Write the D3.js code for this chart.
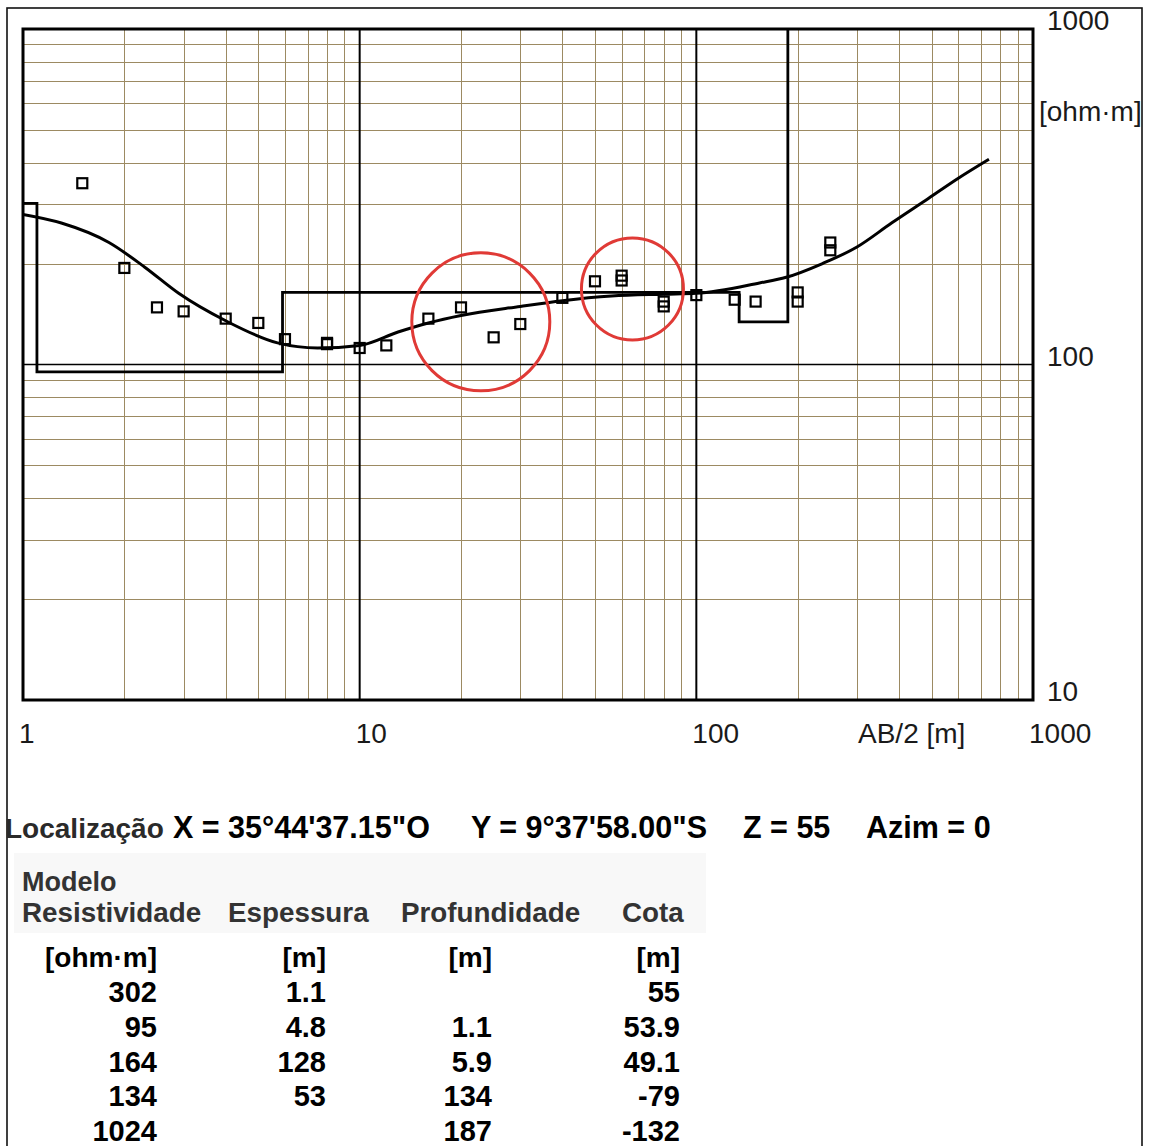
<!DOCTYPE html>
<html>
<head>
<meta charset="utf-8">
<script src="https://cdn.jsdelivr.net/npm/d3@7/dist/d3.min.js"></script>
<style>
  html, body { margin: 0; padding: 0; background: #fff; }
  svg { display: block; }
  text { font-family: "Liberation Sans", Arial, Helvetica, sans-serif; }
</style>
</head>
<body>
<svg id="chart" width="1149" height="1146"></svg>
<script>
// Field sounding: AB/2 spacing [m] and apparent resistivity [ohm·m]
const abHalf = [1.5, 2, 2.5, 3, 4, 5, 6, 8, 8, 10, 12, 16, 20, 25, 30, 40, 50, 60, 60, 80, 80, 100, 130, 150, 200, 200, 250, 250];
const rhoApparent = [347, 194, 148, 144, 137, 133, 119, 115, 116, 112, 114, 137, 148, 120.5, 132, 158, 177, 184, 178, 154, 149, 161, 156, 154, 164, 154, 231, 219];

// Computed (model response) curve
const curveAB  = [1, 1.3, 1.8, 2.3, 2.9, 4, 5.7, 7.5, 10, 13, 16, 20, 30, 40, 56, 80, 100, 154, 185, 237, 300, 380, 490, 600, 740];
const curveRho = [280, 264, 231, 195, 163, 135, 116, 112, 114, 125, 133, 140, 149, 155, 160, 162, 163, 175, 182, 200, 224, 264, 313, 359, 409];

// Layered model
const layerRes   = [302, 95, 164, 134, 1024];
const layerThick = [1.1, 4.8, 128, 53, null];
const layerDepth = [null, 1.1, 5.9, 134, 187];
const layerCota  = [55, 53.9, 49.1, -79, -132];

// Highlighted zones: centre in data units, radius in px
const zoneAB  = [22.9, 64.6];
const zoneRho = [134, 168];
const zoneR   = [69, 51];

// Axis tick labels
const xTickLabels = ["1", "10", "100", "1000"];
const yTickLabels = ["10", "100", "1000"];

const svg = d3.select("#chart");

// outer frame
svg.append("rect").attr("x", 7).attr("y", 8).attr("width", 1135).attr("height", 1150)
  .attr("fill", "none").attr("stroke", "#111").attr("stroke-width", 1.6);

const L = 23, R = 1033, T = 29, B = 700;
const x = d3.scaleLog().domain([1, 1000]).range([L, R]);
const y = d3.scaleLog().domain([10, 1000]).range([B, T]);

const g = svg.append("g");

// grid
const xTicks = x.ticks();
const yTicks = y.ticks();
const isDecade = v => Math.abs(Math.log10(v) - Math.round(Math.log10(v))) < 1e-9;
const gridColor = "#9c8a62";

const gx = g.append("g").attr("transform", `translate(0,${B})`)
  .call(d3.axisBottom(x).tickValues(xTicks.filter(v => !isDecade(v))).tickSize(-(B - T)).tickFormat(""));
gx.select(".domain").remove();
gx.selectAll("line").attr("stroke", gridColor).attr("stroke-width", 1).attr("shape-rendering", "crispEdges");

const gy = g.append("g").attr("transform", `translate(${L},0)`)
  .call(d3.axisLeft(y).tickValues(yTicks.filter(v => !isDecade(v))).tickSize(-(R - L)).tickFormat(""));
gy.select(".domain").remove();
gy.selectAll("line").attr("stroke", gridColor).attr("stroke-width", 1).attr("shape-rendering", "crispEdges");

// decade lines
g.selectAll(".xdec").data([10, 100]).join("line")
  .attr("x1", d => x(d)).attr("x2", d => x(d)).attr("y1", T).attr("y2", B)
  .attr("stroke", "#000").attr("stroke-width", 2);
g.selectAll(".ydec").data([100]).join("line")
  .attr("x1", L).attr("x2", R).attr("y1", d => y(d)).attr("y2", d => y(d))
  .attr("stroke", "#000").attr("stroke-width", 1.5);

// clip to plot area
svg.append("clipPath").attr("id", "plotclip").append("rect")
  .attr("x", L).attr("y", T).attr("width", R - L).attr("height", B - T);
const pg = g.append("g").attr("clip-path", "url(#plotclip)");

// model step line
const steps = [];
layerRes.forEach((r, i) => {
  const x0 = i === 0 ? 1 : layerDepth[i];
  const x1 = i < layerRes.length - 1 ? layerDepth[i + 1] : 1000;
  if (i > 0) steps.push([x0, layerRes[i - 1]]);
  steps.push([x0, r]);
  if (i === layerRes.length - 1) steps.push([x1, r]);
});
// the last layer rises off the top of the plot
steps.length = steps.length - 1;
pg.append("path")
  .attr("d", d3.line().x(d => x(d[0])).y(d => y(d[1]))(steps))
  .attr("fill", "none").attr("stroke", "#000").attr("stroke-width", 2.8);

// computed curve
pg.append("path")
  .attr("d", d3.line().x((d, i) => x(d)).y((d, i) => y(curveRho[i])).curve(d3.curveMonotoneX)(curveAB))
  .attr("fill", "none").attr("stroke", "#000").attr("stroke-width", 3);

// field data squares
const sq = 10;
pg.selectAll(".pt").data(abHalf).join("rect")
  .attr("x", d => x(d) - sq / 2).attr("y", (d, i) => y(rhoApparent[i]) - sq / 2)
  .attr("width", sq).attr("height", sq)
  .attr("fill", "none").attr("stroke", "#000").attr("stroke-width", 2.2);

// plot frame
g.append("rect").attr("x", L).attr("y", T).attr("width", R - L).attr("height", B - T)
  .attr("fill", "none").attr("stroke", "#000").attr("stroke-width", 3);

// highlighted zones
g.selectAll(".zone").data(zoneAB).join("circle")
  .attr("cx", d => x(d)).attr("cy", (d, i) => y(zoneRho[i])).attr("r", (d, i) => zoneR[i])
  .attr("fill", "none").attr("stroke", "#e03a36").attr("stroke-width", 3);

// axis labels
const xVals = [1, 10, 100, 1000];
svg.selectAll(".xl").data(xTickLabels).join("text")
  .attr("x", (d, i) => x(xVals[i]) - 4).attr("y", 743)
  .attr("font-size", 28).attr("fill", "#1a1a1a").text(d => d);
svg.append("text").attr("x", 858).attr("y", 743).attr("font-size", 28).attr("fill", "#1a1a1a").text("AB/2 [m]");

const yVals = [10, 100, 1000];
svg.selectAll(".yl").data(yTickLabels).join("text")
  .attr("x", 1047).attr("y", (d, i) => y(yVals[i]) + 1)
  .attr("font-size", 28).attr("fill", "#1a1a1a").text(d => d);
svg.append("text").attr("x", 1039).attr("y", 121).attr("font-size", 28).attr("fill", "#1a1a1a").text("[ohm·m]");

// location line
const loc = [
  { t: "Localização", x: 5, c: "#2a2a2a", s: 28 },
  { t: "X = 35°44'37.15\"O", x: 173, c: "#000", s: 30.5 },
  { t: "Y = 9°37'58.00\"S", x: 471, c: "#000", s: 30.5 },
  { t: "Z = 55", x: 743, c: "#000", s: 30.5 },
  { t: "Azim = 0", x: 866, c: "#000", s: 30.5 }
];
svg.selectAll(".loc").data(loc).join("text")
  .attr("x", d => d.x).attr("y", 838).attr("font-size", d => d.s).attr("font-weight", "bold")
  .attr("fill", d => d.c).text(d => d.t);

// model table
svg.append("rect").attr("x", 14).attr("y", 853).attr("width", 692).attr("height", 80).attr("fill", "#f8f8f8");
svg.append("text").attr("x", 22).attr("y", 891).attr("font-size", 27).attr("font-weight", "bold")
  .attr("fill", "#333").text("Modelo");
const headers = [
  { t: "Resistividade", x: 22 },
  { t: "Espessura", x: 228 },
  { t: "Profundidade", x: 401 },
  { t: "Cota", x: 622 }
];
svg.selectAll(".hd").data(headers).join("text")
  .attr("x", d => d.x).attr("y", 922).attr("font-size", 27.8).attr("font-weight", "bold")
  .attr("fill", "#333").text(d => d.t);

const colRight = [157, 326, 492, 680];
const units = ["[ohm·m]", "[m]", "[m]", "[m]"];
svg.selectAll(".un").data(units).join("text")
  .attr("x", (d, i) => colRight[i]).attr("y", 967).attr("text-anchor", "end")
  .attr("font-size", 28).attr("font-weight", "bold").attr("fill", "#000").text(d => d);

const fmt = v => (v === null ? "" : String(v));
const cols = [layerRes, layerThick, layerDepth, layerCota];
cols.forEach((col, ci) => {
  svg.selectAll(".c" + ci).data(col).join("text")
    .attr("x", colRight[ci]).attr("y", (d, i) => 1002 + i * 34.8).attr("text-anchor", "end")
    .attr("font-size", 29).attr("font-weight", "bold").attr("fill", "#000").text(fmt);
});
</script>
</body>
</html>
